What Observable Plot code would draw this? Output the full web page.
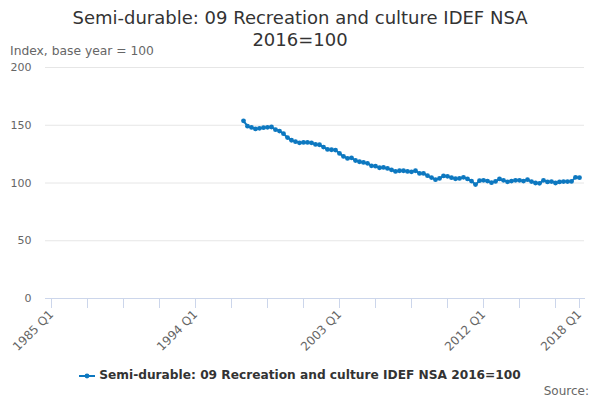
<!DOCTYPE html>
<html>
<head>
<meta charset="utf-8">
<script src="https://cdn.jsdelivr.net/npm/d3@7"></script>
<script src="https://cdn.jsdelivr.net/npm/@observablehq/plot@0.6"></script>
<style>
  html, body { margin: 0; padding: 0; background: #fff; }
  #wrap { position: relative; width: 600px; height: 400px; font-family: "DejaVu Sans", sans-serif; overflow: hidden; }
  #title { position: absolute; top: 7px; left: 0; width: 600px; text-align: center; font-size: 18px; line-height: 22px; color: #333; }
  #ylabel { position: absolute; left: 10px; top: 44px; font-size: 12.3px; color: #666; }
  #chart { position: absolute; left: 0; top: 44px; }
  #legend { position: absolute; top: 368px; left: 0; width: 600px; text-align: center; font-size: 12.2px; font-weight: bold; color: #333; }
  #legend svg { vertical-align: middle; margin-right: 4px; }
  #source { position: absolute; right: 11px; top: 384px; font-size: 12px; color: #666; }
</style>
</head>
<body>
<div id="wrap">
  <div id="title">Semi-durable: 09 Recreation and culture IDEF NSA<br>2016=100</div>
  <div id="chart"></div>
  <div id="ylabel">Index, base year = 100</div>
  <div id="legend"></div>
  <div id="source">Source:</div>
</div>
<script>
const seriesName = "Semi-durable: 09 Recreation and culture IDEF NSA 2016=100";
const seriesColor = "#0d78c0";
const axisStart = "1985 Q1";
const axisEnd = "2018 Q1";
const dataStart = "1997 Q1";
const values = [
  153.8, 149.2, 148.1, 146.8, 147.3, 147.9, 148.2, 148.5,
  146.2, 145.0, 142.7, 139.3, 137.0, 135.8, 134.8, 135.1,
  135.1, 134.8, 133.4, 133.1, 131.1, 129.1, 128.8, 128.5,
  125.6, 123.0, 121.3, 121.8, 119.5, 118.4, 117.8, 117.0,
  114.9, 114.6, 113.2, 113.5, 112.6, 111.4, 110.0, 110.6,
  110.6, 110.0, 109.7, 110.6, 108.3, 108.3, 106.3, 104.7,
  102.9, 104.0, 106.1, 105.8, 104.6, 103.7, 104.0, 104.9,
  103.5, 101.7, 98.6, 102.0, 102.3, 101.7, 100.3, 101.4,
  103.5, 102.3, 101.0, 101.7, 102.3, 102.3, 101.7, 102.9,
  101.2, 100.0, 99.7, 102.3, 100.9, 101.2, 100.0, 100.9,
  101.2, 101.2, 101.4, 104.9, 104.6
];
const yTicks = [0, 50, 100, 150, 200];
const xTickLabels = ["1985 Q1", "1994 Q1", "2003 Q1", "2012 Q1", "2018 Q1"];
const xTickEvery = 9;

// category list of quarters
const quarters = [];
{
  const [sy] = axisStart.split(" Q").map(Number);
  const [ey, eq] = axisEnd.split(" Q").map(Number);
  for (let y = sy; y <= ey; y++) {
    for (let q = 1; q <= 4; q++) {
      if (y === ey && q > eq) break;
      quarters.push(`${y} Q${q}`);
    }
  }
}
const dataQuarters = quarters.slice(quarters.indexOf(dataStart));
const data = values.map((v, i) => ({q: dataQuarters[i], v}));
const xTickMarks = quarters.filter((d, i) => i % xTickEvery === 0 || i === quarters.length - 1);

const chart = Plot.plot({
  width: 600,
  height: 310,
  marginLeft: 45,
  marginRight: 16,
  marginTop: 23,
  marginBottom: 56,
  style: {fontFamily: "DejaVu Sans, sans-serif", fontSize: "11px", color: "#666", background: "transparent"},
  x: {type: "point", domain: quarters, padding: 0.5},
  y: {domain: [0, 200]},
  marks: [
    Plot.gridY(yTicks.filter(d => d > 0), {stroke: "#e6e6e6", strokeOpacity: 1}),
    Plot.axisY(yTicks, {tickSize: 0, tickPadding: 14, label: null, fill: "#666"}),
    Plot.axisX(xTickMarks, {
      tickSize: 10, stroke: "#ccd6eb", strokeOpacity: 1, fill: "#666",
      tickRotate: -45, tickPadding: 4, label: null, fontSize: 12,
      tickFormat: d => xTickLabels.includes(d) ? d : ""
    }),
    Plot.frame({anchor: "bottom", stroke: "#ccd6eb", strokeOpacity: 1}),
    Plot.line(data, {x: "q", y: "v", stroke: seriesColor, strokeWidth: 2}),
    Plot.dot(data, {x: "q", y: "v", fill: seriesColor, r: 2.4})
  ]
});
document.getElementById("chart").appendChild(chart);

document.getElementById("legend").innerHTML =
  `<svg width="16" height="10"><line x1="0" y1="5" x2="16" y2="5" stroke="${seriesColor}" stroke-width="2"/><circle cx="8" cy="5" r="2.4" fill="${seriesColor}"/></svg>` +
  seriesName;
</script>
</body>
</html>
